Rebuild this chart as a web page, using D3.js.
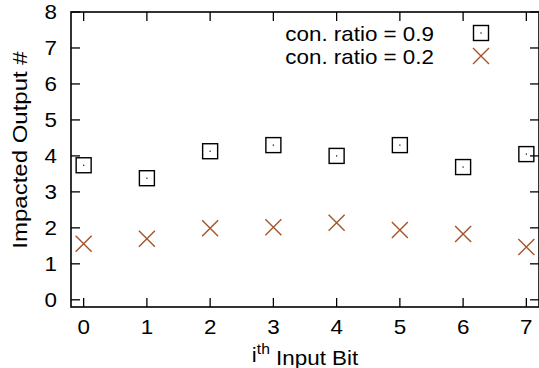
<!DOCTYPE html>
<html><head><meta charset="utf-8">
<script src="https://cdn.jsdelivr.net/npm/d3@7"></script>
<style>body{margin:0;background:#fff}svg{display:block}text{font-family:"Liberation Sans",Arial,sans-serif;fill:#000}</style>
</head><body><svg id="c" width="539" height="368"></svg>
<script>
const bits = [0,1,2,3,4,5,6,7];
const ratio09 = [3.74,3.38,4.13,4.3,4.0,4.3,3.69,4.05];
const ratio02 = [1.56,1.70,1.99,2.02,2.14,1.94,1.83,1.47];
const yTicks = [0,1,2,3,4,5,6,7,8];
const seriesNames = ["con. ratio = 0.9","con. ratio = 0.2"];
const crossColor = "#a3542a";

const svg = d3.select("#c");
const L=71,T=12,R=539,B=307;
const x = d3.scaleLinear().domain([-0.2,7.2]).range([L,R]);
const y = d3.scaleLinear().domain([-0.2,8]).range([B,T]);
const fs = 20, sx = 1.12;

const g = svg.append("g");
yTicks.forEach(v=>{
  g.append("line").attr("x1",L).attr("x2",L+9).attr("y1",y(v)).attr("y2",y(v)).attr("stroke","#000").attr("stroke-width",1.3);
  g.append("line").attr("x1",R-9).attr("x2",R).attr("y1",y(v)).attr("y2",y(v)).attr("stroke","#000").attr("stroke-width",1.3);
  g.append("text").attr("transform",`translate(57,${y(v)}) scale(${sx},1)`).attr("text-anchor","end").attr("dy","0.35em").style("font-size",fs+"px").text(v);
});
bits.forEach(v=>{
  g.append("line").attr("x1",x(v)).attr("x2",x(v)).attr("y1",B).attr("y2",B-9).attr("stroke","#000").attr("stroke-width",1.3);
  g.append("line").attr("x1",x(v)).attr("x2",x(v)).attr("y1",T).attr("y2",T+9).attr("stroke","#000").attr("stroke-width",1.3);
  g.append("text").attr("transform",`translate(${x(v)},334) scale(${sx},1)`).attr("text-anchor","middle").style("font-size",fs+"px").text(v);
});
g.append("rect").attr("x",L).attr("y",T).attr("width",R-L).attr("height",B-T).attr("fill","none").attr("stroke","#000").attr("stroke-width",1.6);

const xl = g.append("text").attr("transform",`translate(305,362) scale(${sx},1)`).attr("text-anchor","middle").style("font-size",fs+"px");
xl.append("tspan").text("i");
xl.append("tspan").attr("dy","-0.55em").style("font-size","14px").text("th");
xl.append("tspan").attr("dy","0.55em").text(" Input Bit");
g.append("text").attr("transform",`translate(27,150) rotate(-90) scale(1.2,1)`).attr("text-anchor","middle").style("font-size","20px").text("Impacted Output #");

function square(sel, cx, cy){
  sel.append("rect").attr("x",cx-7.5).attr("y",cy-7.5).attr("width",15).attr("height",15).attr("fill","none").attr("stroke","#000").attr("stroke-width",1.4);
  sel.append("rect").attr("x",cx-0.6).attr("y",cy-0.6).attr("width",1.2).attr("height",1.2).attr("fill","#000");
}
function cross(sel, cx, cy){
  sel.append("path").attr("d",`M${cx-8},${cy-8}L${cx+8},${cy+8}M${cx-8},${cy+8}L${cx+8},${cy-8}`).attr("stroke",crossColor).attr("stroke-width",1.4).attr("fill","none");
}
bits.forEach((b,i)=>{ square(g, x(b), y(ratio09[i])); cross(g, x(b), y(ratio02[i])); });

g.append("text").attr("transform",`translate(434,41) scale(${sx},1)`).attr("text-anchor","end").style("font-size",fs+"px").text(seriesNames[0]);
g.append("text").attr("transform",`translate(434,64) scale(${sx},1)`).attr("text-anchor","end").style("font-size",fs+"px").text(seriesNames[1]);
square(g,481,33);
cross(g,481,56);
</script></body></html>
